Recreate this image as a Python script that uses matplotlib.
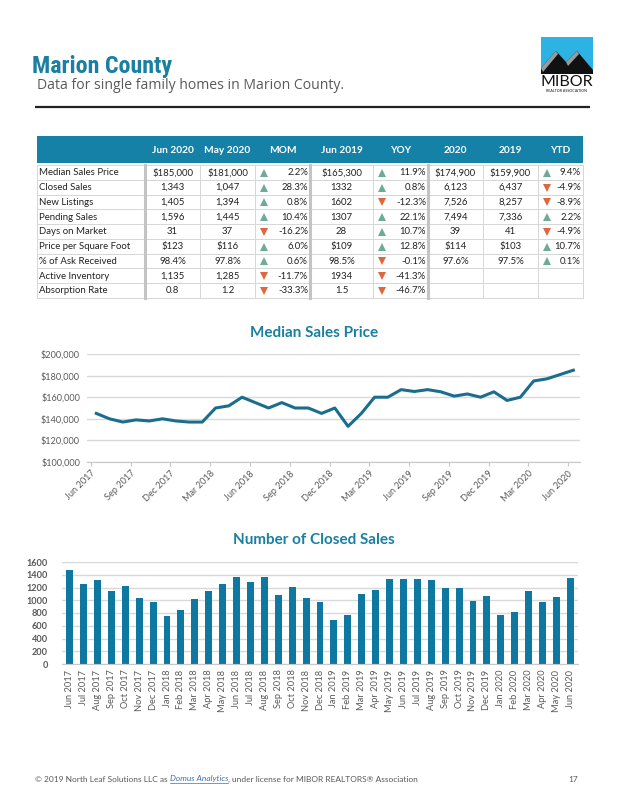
import numpy as np
import matplotlib
matplotlib.use('Agg')
import matplotlib.pyplot as plt
from matplotlib import font_manager
from matplotlib.font_manager import FontProperties
from matplotlib.patches import Rectangle, Polygon
from matplotlib.ticker import FuncFormatter, MultipleLocator

# Data
month_names = ['Jan', 'Feb', 'Mar', 'Apr', 'May', 'Jun',
               'Jul', 'Aug', 'Sep', 'Oct', 'Nov', 'Dec']
months = []
for k in range(37):
    m = (5 + k) % 12
    y = 2017 + (5 + k) // 12
    months.append(f'{month_names[m]} {y}')

median_price = [145000, 140000, 137000, 139000, 138000, 140000, 138000, 137000, 137000,
                150000, 152000, 160000, 155000, 150000, 155000, 150000, 150000, 145000,
                150000, 133000, 145000, 160000, 160000, 167000, 165300, 167000, 165000,
                161000, 163000, 160000, 165000, 157000, 160000, 175000, 177000, 181000,
                185000]

closed_sales = [1470, 1260, 1310, 1150, 1220, 1035, 970, 760, 840, 1025, 1150, 1255,
                1370, 1290, 1370, 1085, 1215, 1035, 980, 695, 775, 1105, 1160, 1340,
                1332, 1335, 1310, 1190, 1190, 995, 1070, 775, 820, 1145, 975, 1047,
                1343]

row_labels = ['Median Sales Price', 'Closed Sales', 'New Listings', 'Pending Sales',
              'Days on Market', 'Price per Square Foot', '% of Ask Received',
              'Active Inventory', 'Absorption Rate']
col_jun2020 = ['$185,000', '1,343', '1,405', '1,596', '31', '$123', '98.4%', '1,135', '0.8']
col_may2020 = ['$181,000', '1,047', '1,394', '1,445', '37', '$116', '97.8%', '1,285', '1.2']
mom = [2.2, 28.3, 0.8, 10.4, -16.2, 6.0, 0.6, -11.7, -33.3]
col_jun2019 = ['$165,300', '1332', '1602', '1307', '28', '$109', '98.5%', '1934', '1.5']
yoy = [11.9, 0.8, -12.3, 22.1, 10.7, 12.8, -0.1, -41.3, -46.7]
col_2020 = ['$174,900', '6,123', '7,526', '7,494', '39', '$114', '97.6%', '', '']
col_2019 = ['$159,900', '6,437', '8,257', '7,336', '41', '$103', '97.5%', '', '']
ytd = [9.4, -4.9, -8.9, 2.2, -4.9, 10.7, 0.1, None, None]
headers = ['Jun 2020', 'May 2020', 'MOM', 'Jun 2019', 'YOY', '2020', '2019', 'YTD']

# Fonts
names = {f.name for f in font_manager.fontManager.ttflist}
body = 'Lato' if 'Lato' in names else 'DejaVu Sans'
sub_font = 'Open Sans' if 'Open Sans' in names else body

# look for a condensed bold face for the big title
title_fp = FontProperties(family='DejaVu Sans', weight='bold')
for fam in ['Liberation Sans Narrow', 'Roboto Condensed', 'Noto Sans', 'DejaVu Sans',
            'Open Sans', 'Roboto']:
    fp = FontProperties(family=fam, weight='bold', stretch='condensed')
    try:
        path = font_manager.findfont(fp, fallback_to_default=False)
    except Exception:
        continue
    low = path.lower()
    if 'condensed' in low or 'narrow' in low:
        title_fp = fp
        break

TEAL = '#1a7fa0'
HEAD = '#1681a7'
BAR = '#0f78a0'
LINE = '#1b6d8d'
UP = '#6dab98'
DOWN = '#e0663e'
GRAY = '#595959'
FS = 6.9

fig = plt.figure(figsize=(6.2, 8.02), dpi=100)
fig.patch.set_facecolor('white')

# overlay axes in pixel coordinates
ax0 = fig.add_axes([0, 0, 1, 1])
ax0.set_xlim(0, 620)
ax0.set_ylim(802, 0)
ax0.axis('off')

# Header
title = ax0.text(32, 73, 'Marion County', fontproperties=title_fp, fontsize=22,
                 color=TEAL, va='baseline', ha='left')
fig.canvas.draw()
renderer = fig.canvas.get_renderer()
w_title = title.get_window_extent(renderer).width
title.set_fontsize(min(26, 22 * 140 / w_title))

ax0.text(37, 89, 'Data for single family homes in Marion County.', fontsize=10.1,
         color=GRAY, family=sub_font, va='baseline', ha='left')
ax0.plot([35, 590], [107, 107], color='#222222', lw=1.6, solid_capstyle='butt')

# Logo
ax0.add_patch(Rectangle((541, 37), 52, 37, facecolor='#2cb3e4', edgecolor='none'))
ax0.add_patch(Polygon([(541, 74), (541, 68), (556, 51), (566, 62), (577, 51),
                       (593, 70), (593, 74)], closed=True, facecolor='#111111',
                      edgecolor='none'))
ax0.add_patch(Polygon([(541, 68), (556, 51), (558, 54), (543, 72)], closed=True,
                      facecolor='#9a9a9a', edgecolor='none'))
ax0.add_patch(Polygon([(566, 62), (577, 51), (579, 54), (568, 66)], closed=True,
                      facecolor='#9a9a9a', edgecolor='none'))
ax0.text(567, 82.5, 'MIBOR', fontsize=11.5, color='#111111', family=body, ha='center',
         va='center')
ax0.text(567, 91, 'REALTOR ASSOCIATION', fontsize=2.6, color='#111111', family=body,
         ha='center', va='center')

# Table
t_left, t_right = 37, 583
h_top, h_bot = 136, 163
r_top = 165
r_h = 14.75
bounds = [37, 145, 200, 255, 310, 373, 428, 483, 538, 583]
ax0.add_patch(Rectangle((t_left, h_top), t_right - t_left, h_bot - h_top,
                        facecolor=HEAD, edgecolor='none'))
for j, h in enumerate(headers):
    xc = (bounds[j + 1] + bounds[j + 2]) / 2
    ax0.text(xc, (h_top + h_bot) / 2 + 1, h, fontsize=FS + 0.4, fontweight='bold',
             color='white', family=body, ha='center', va='center')

n = len(row_labels)
r_bot = r_top + n * r_h
for i in range(n + 1):
    yy = r_top + i * r_h
    ax0.plot([t_left, t_right], [yy, yy], color='#d6d6d6', lw=0.7)
for j, xb in enumerate(bounds):
    if xb in (145, 310, 428):
        ax0.plot([xb, xb], [r_top, r_bot], color='#c4c4c4', lw=2.2)
    else:
        ax0.plot([xb, xb], [r_top, r_bot], color='#d6d6d6', lw=0.7)


def pct_cell(ax, x0, x1, yc, v):
    if v is None:
        return
    ax.plot(x0 + 9, yc, marker='^' if v >= 0 else 'v', color=UP if v >= 0 else DOWN,
            markersize=5.5, markeredgewidth=0)
    ax.text(x1 - 2, yc, f'{v:.1f}%', fontsize=FS, color='#222222', family=body,
            ha='right', va='center')


cols_text = {0: col_jun2020, 1: col_may2020, 3: col_jun2019, 5: col_2020, 6: col_2019}
cols_pct = {2: mom, 4: yoy, 7: ytd}
for i in range(n):
    yc = r_top + (i + 0.5) * r_h + 0.5
    ax0.text(t_left + 2, yc, row_labels[i], fontsize=FS, color='#222222', family=body,
             ha='left', va='center')
    for j in range(8):
        x0, x1 = bounds[j + 1], bounds[j + 2]
        if j in cols_text:
            ax0.text((x0 + x1) / 2, yc, cols_text[j][i], fontsize=FS, color='#222222',
                     family=body, ha='center', va='center')
        else:
            pct_cell(ax0, x0, x1, yc, cols_pct[j][i])

# Median Sales Price line chart
ax0.text(314, 333, 'Median Sales Price', fontsize=11, fontweight='bold', color=TEAL,
         family=body, ha='center', va='center')
ax1 = fig.add_axes([87 / 620, 1 - 462 / 802, 493 / 620, 108 / 802])
x = np.arange(len(median_price))
ax1.plot(x, median_price, color=LINE, lw=2.2)
ax1.set_ylim(100000, 200000)
ax1.set_xlim(-0.7, 36.5)
ax1.yaxis.set_major_locator(MultipleLocator(20000))
ax1.yaxis.set_major_formatter(FuncFormatter(lambda v, p: f'${v:,.0f}'))
ax1.grid(axis='y', color='#d9d9d9', lw=1)
ax1.set_axisbelow(True)
for s in ['top', 'right', 'left']:
    ax1.spines[s].set_visible(False)
ax1.spines['bottom'].set_color('#c8c8c8')
tick_idx = list(range(0, 37, 3))
ax1.set_xticks([i - 0.4 for i in tick_idx])
ax1.set_xticklabels([months[i] for i in tick_idx], rotation=45, ha='right',
                    rotation_mode='anchor', fontsize=6.6, color=GRAY, family=body)
ax1.tick_params(axis='x', length=3, color='#c8c8c8', pad=2)
ax1.tick_params(axis='y', length=0, labelsize=6.6, labelcolor=GRAY, pad=5)
for lab in ax1.get_yticklabels():
    lab.set_family(body)

# Number of Closed Sales bar chart
ax0.text(314, 540, 'Number of Closed Sales', fontsize=11, fontweight='bold', color=TEAL,
         family=body, ha='center', va='center')
ax2 = fig.add_axes([62 / 620, 1 - 664 / 802, 516 / 620, 102 / 802])
xb = np.arange(len(closed_sales))
ax2.bar(xb, closed_sales, width=0.5, color=BAR)
ax2.set_ylim(0, 1600)
ax2.set_xlim(-0.55, 36.55)
ax2.yaxis.set_major_locator(MultipleLocator(200))
ax2.grid(axis='y', color='#d9d9d9', lw=1)
ax2.set_axisbelow(True)
for s in ['top', 'right', 'left']:
    ax2.spines[s].set_visible(False)
ax2.spines['bottom'].set_color('#c8c8c8')
ax2.set_xticks(xb)
ax2.set_xticklabels(months, rotation=90, fontsize=6.7, color=GRAY, family=body)
ax2.tick_params(axis='x', length=0, pad=4)
ax2.tick_params(axis='y', length=0, labelsize=6.6, labelcolor=GRAY, pad=10)
for lab in ax2.get_yticklabels():
    lab.set_family(body)
    lab.set_fontweight('bold')

# Footer
fig.canvas.draw()
parts = [('\u00a9 2019 North Leaf Solutions LLC as ', GRAY, 'normal', False),
         ('Domus Analytics', '#3d6fb6', 'italic', True),
         (', under license for MIBOR REALTORS\u00ae Association', GRAY, 'normal', False)]
xcur = 35
for txt, col, style, under in parts:
    t = ax0.text(xcur, 779, txt, fontsize=6.0, color=col, style=style, family=body,
                 ha='left', va='center')
    bb = t.get_window_extent(renderer)
    w = bb.width * 620 / fig.bbox.width
    if under:
        ax0.plot([xcur, xcur + w], [782.5, 782.5], color=col, lw=0.5)
    xcur += w
ax0.text(568, 779, '17', fontsize=6.0, color=GRAY, family=body, ha='left', va='center')

fig.savefig('out.png', dpi=100, facecolor='white')
